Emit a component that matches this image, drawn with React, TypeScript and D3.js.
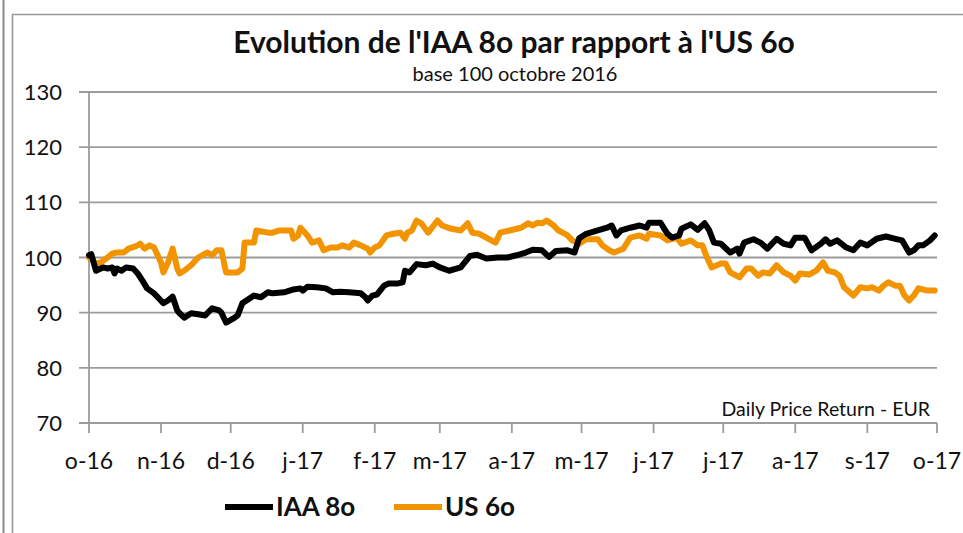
import React from "react";
import * as d3 from "d3";

// Days since 1 Oct 2016 and index values (base 100)
const iaaDays = [0,1,3,6,8,10,11,12,14,16,19,21,23,25,28,30,32,34,36,38,39,41,44,47,50,53,56,57,59,62,64,66,71,74,77,79,84,88,91,92,94,98,102,105,108,112,117,119,120,122,124,127,129,133,135,136,138,141,145,148,151,155,160,164,167,171,176,180,184,188,191,195,198,201,206,209,210,211,214,219,223,225,227,229,233,237,240,241,246,249,251,254,255,259,262,265,267,269,272,276,279,280,282,286,289,292,296,299,302,304,308,311,315,317,319,322,326,329,332,335,339,343,348,350,353,355,357,359,362,364];
const iaaValues = [100.4,100.6,97.6,98.2,98.0,98.2,97.1,98.0,97.6,98.2,98.0,97.1,95.8,94.4,93.5,92.6,91.7,92.2,92.9,90.4,89.9,89.1,89.9,89.7,89.5,90.8,90.4,90.0,88.2,88.9,89.5,91.7,93.1,92.8,93.7,93.5,93.7,94.2,94.4,94.0,94.7,94.6,94.4,93.7,93.8,93.7,93.5,92.8,92.2,93.1,93.3,94.9,95.3,95.3,95.5,97.6,97.3,98.8,98.6,98.9,98.2,97.6,98.2,100.3,100.5,99.8,100.0,100.0,100.4,100.9,101.4,101.3,100.1,101.2,101.3,100.9,102.2,103.5,104.3,104.9,105.4,105.8,104.0,104.9,105.4,105.8,105.4,106.3,106.3,104.3,103.6,104.0,105.2,106.0,105.0,106.2,104.9,102.7,102.5,100.9,101.6,100.7,102.7,103.3,102.7,101.6,103.4,102.5,102.2,103.6,103.6,101.3,102.5,103.3,102.5,103.1,101.8,101.3,102.7,102.2,103.4,103.8,103.3,103.1,100.9,101.3,102.2,102.2,103.1,104.0];

const usDays = [0,3,5,8,10,12,15,17,20,22,24,26,28,31,32,34,36,38,39,41,44,47,50,51,53,55,57,59,62,64,66,67,71,72,77,79,82,87,88,90,91,94,96,99,101,104,107,109,112,114,117,120,121,123,125,128,131,134,136,137,139,141,143,146,150,152,156,160,163,165,168,171,175,177,181,186,189,191,193,195,197,200,202,206,208,211,214,219,221,224,226,230,233,237,240,241,246,249,253,255,259,262,264,266,268,272,274,276,280,283,285,288,290,293,296,299,302,304,306,310,313,316,318,321,323,325,329,332,335,337,340,342,344,347,349,351,353,355,357,361,364];
const usValues = [100.0,98.9,99.1,100.0,100.7,100.9,100.9,101.6,102.0,102.5,101.6,102.2,101.8,99.1,97.3,99.1,101.6,98.0,97.1,97.6,98.6,100.0,100.7,100.9,100.4,101.3,101.3,97.3,97.3,97.3,98.0,102.7,102.7,104.9,104.5,104.5,104.9,104.9,103.4,104.0,105.4,104.0,102.7,103.1,101.3,101.8,101.8,102.2,101.8,102.7,102.2,101.6,100.9,101.8,102.2,104.0,104.3,104.5,103.4,104.5,104.9,106.7,106.2,104.5,106.7,105.8,105.2,104.9,106.2,104.5,104.3,103.6,102.7,104.5,104.9,105.4,106.2,105.8,106.3,106.2,106.7,105.8,104.9,104.0,103.1,102.5,103.3,103.3,102.2,101.3,100.9,101.6,103.6,104.0,103.4,104.3,104.0,103.1,103.6,102.5,103.1,102.2,102.2,100.0,98.2,98.9,98.9,97.3,96.4,98.0,98.0,96.7,97.3,97.1,98.6,97.3,96.7,95.8,97.1,96.9,97.6,99.1,97.6,97.3,96.7,94.6,93.1,94.6,94.4,94.6,94.0,94.9,95.5,94.9,94.9,93.1,92.2,93.1,94.4,94.0,94.0];

const yTicks = [70, 80, 90, 100, 110, 120, 130];
const monthLabels = ["o-16","n-16","d-16","j-17","f-17","m-17","a-17","m-17","j-17","j-17","a-17","s-17","o-17"];
const seriesNames = ["IAA 8o", "US 6o"];
const seriesColors = ["#000000", "#F29400"];

const W = 963, H = 533;
const left = 89, right = 937, top = 92, bottom = 423;
const FONT = "Lato, 'Open Sans', sans-serif";

export default function App() {
  const start = new Date(2016, 9, 1);
  const end = new Date(2017, 9, 1);
  const x = d3.scaleTime().domain([start, end]).range([left, right]);
  const y = d3.scaleLinear().domain([70, 130]).range([bottom, top]);
  const monthTicks = d3.timeMonth.range(start, d3.timeDay.offset(end, 1));

  const toPts = (days: number[], vals: number[]) =>
    days.map((d, i) => ({ date: d3.timeDay.offset(start, d), v: vals[i] }));
  const series = [toPts(iaaDays, iaaValues), toPts(usDays, usValues)];
  const line = d3
    .line<{ date: Date; v: number }>()
    .x((d) => x(d.date))
    .y((d) => y(d.v));

  const grid = "#9c9c9c";
  const drawOrder = [1, 0];

  return (
    <svg
      width={W}
      height={H}
      style={{ position: "absolute", left: 0, top: 0, background: "#fff" }}
      fontFamily={FONT}
    >
      <rect x={0} y={0} width={W} height={H} fill="#fff" />
      {/* outer frames */}
      <line x1={3.5} x2={3.5} y1={0} y2={H} stroke="#8a8a8a" strokeWidth={2} />
      <path d={`M12.5,${H} V14.5 H${W}`} fill="none" stroke="#999" strokeWidth={1.6} />

      {/* titles */}
      <text x={514} y={53} textAnchor="middle" fontSize={30} fontWeight="bold" fill="#111">
        Evolution de l'IAA 8o par rapport à l'US 6o
      </text>
      <text x={515} y={81} textAnchor="middle" fontSize={20} fill="#111">
        base 100 octobre 2016
      </text>

      {/* grid lines */}
      {yTicks.map((t) => (
        <g key={t}>
          <line x1={left - 10} x2={right} y1={y(t)} y2={y(t)} stroke={grid} strokeWidth={1.8} />
          <text x={62} y={y(t) + 8} textAnchor="end" fontSize={22} fill="#111">
            {t}
          </text>
        </g>
      ))}
      <line x1={left} x2={left} y1={top} y2={bottom} stroke={grid} strokeWidth={1.8} />
      {monthTicks.map((m, i) => (
        <g key={i}>
          <line x1={x(m)} x2={x(m)} y1={bottom} y2={bottom + 10} stroke={grid} strokeWidth={1.8} />
          <text x={x(m)} y={469} textAnchor="middle" fontSize={23} fill="#111">
            {monthLabels[i]}
          </text>
        </g>
      ))}

      <text x={930} y={416} textAnchor="end" fontSize={19.5} fill="#111">
        Daily Price Return - EUR
      </text>

      {/* series */}
      {drawOrder.map((i) => (
        <path
          key={i}
          d={line(series[i]) || ""}
          fill="none"
          stroke={seriesColors[i]}
          strokeWidth={6}
          strokeLinejoin="round"
          strokeLinecap="round"
        />
      ))}

      {/* legend */}
      {seriesNames.map((n, i) => {
        const lx = i === 0 ? 225 : 394;
        return (
          <g key={n}>
            <line x1={lx} x2={lx + 48} y1={507} y2={507} stroke={seriesColors[i]} strokeWidth={6} />
            <text x={lx + 51} y={516} fontSize={26} fontWeight="bold" fill="#111">
              {n}
            </text>
          </g>
        );
      })}
    </svg>
  );
}
